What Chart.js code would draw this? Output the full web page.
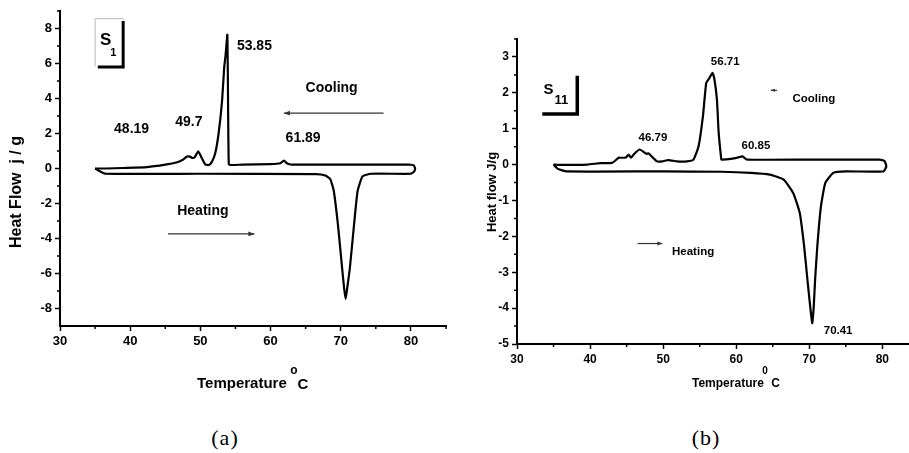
<!DOCTYPE html>
<html>
<head>
<meta charset="utf-8">
<script src="https://cdn.jsdelivr.net/npm/chart.js@4.4.0/dist/chart.umd.min.js"></script>
<style>
  html, body { margin: 0; padding: 0; background: #fff; }
  #page { position: relative; width: 909px; height: 453px; overflow: hidden; }
  canvas { position: absolute; top: 0; }
  #chartA { left: 0; }
  #chartB { left: 455px; }
  .cap { position: absolute; top: 425px; line-height: 26px; font-size: 22px;
         font-family: "Liberation Serif", "Times New Roman", serif; transform: translateX(-50%); letter-spacing: 1px; }
</style>
</head>
<body>
<div id="page">
  <canvas id="chartA" width="455" height="400"></canvas>
  <canvas id="chartB" width="454" height="400"></canvas>
  <div class="cap" style="left:225px">(a)</div>
  <div class="cap" style="left:706px">(b)</div>
</div>
<script>
// ---- (a) sample S1 ----
// heating run (lower trace), left to right, ends in the right-hand turn
const heatTempA = [35.0, 35.5, 36.5, 50.0, 66.5, 67.8, 68.5, 69.0, 69.6, 70.2, 70.5, 70.7, 70.9, 71.3, 71.9, 72.4, 73.1, 74.3, 79.9, 80.4, 80.6, 80.4, 79.9];
const heatFlowA = [0.0, -0.12, -0.3, -0.3, -0.32, -0.4, -0.6, -1.26, -3.2, -5.7, -6.9, -7.45, -6.9, -5.7, -3.2, -1.3, -0.45, -0.3, -0.3, -0.2, 0.0, 0.18, 0.22];
// cooling run (upper trace), right to left
const coolTempA = [79.9, 70.0, 63.0, 62.4, 61.9, 61.4, 60.0, 56.0, 54.3, 54.05, 53.95, 53.85, 53.6, 53.4, 53.1, 52.6, 52.1, 51.6, 51.2, 50.7, 50.2, 49.7, 49.2, 48.9, 48.5, 48.1, 47.5, 46.7, 45.0, 42.4, 39.0, 36.5, 35.5, 35.0];
const coolFlowA = [0.22, 0.22, 0.22, 0.28, 0.45, 0.3, 0.25, 0.22, 0.2, 0.25, 3.5, 7.64, 6.5, 5.8, 3.9, 2.0, 0.84, 0.35, 0.2, 0.23, 0.6, 0.98, 0.65, 0.6, 0.68, 0.68, 0.5, 0.36, 0.22, 0.08, 0.03, 0.0, 0.0, 0.0];
const xTicksA = [30, 40, 50, 60, 70, 80];
const xMinorA = [35, 45, 55, 65, 75, 85];
const yTicksA = [-8, -6, -4, -2, 0, 2, 4, 6, 8];
const yMinorA = [-7, -5, -3, -1, 1, 3, 5, 7, 9];

// ---- (b) sample S11 ----
const heatTempB = [35.0, 35.6, 36.8, 50.0, 58.0, 62.0, 64.6, 66.5, 67.8, 68.7, 69.3, 69.75, 70.1, 70.4, 70.6, 70.8, 71.1, 71.6, 72.2, 73.3, 75.0, 80.15, 80.55, 80.3, 79.7];
const heatFlowB = [0.0, -0.12, -0.19, -0.19, -0.2, -0.23, -0.28, -0.42, -0.79, -1.35, -2.28, -3.21, -3.9, -4.42, -4.0, -3.21, -2.28, -1.16, -0.51, -0.23, -0.19, -0.19, -0.05, 0.1, 0.14];
const coolTempB = [79.7, 70.0, 61.5, 60.85, 60.3, 59.0, 58.0, 57.95, 57.6, 57.36, 57.0, 56.75, 56.3, 55.9, 55.45, 54.85, 54.15, 53.25, 51.9, 51.0, 50.5, 49.9, 49.15, 48.0, 47.7, 46.77, 46.05, 45.6, 45.27, 44.9, 44.2, 43.9, 43.4, 43.0, 41.4, 39.6, 35.9, 35.0];
const coolFlowB = [0.14, 0.14, 0.14, 0.23, 0.2, 0.15, 0.14, 0.16, 0.89, 1.82, 2.4, 2.56, 2.4, 2.28, 1.35, 0.51, 0.14, 0.09, 0.09, 0.12, 0.12, 0.09, 0.09, 0.31, 0.3, 0.42, 0.3, 0.19, 0.28, 0.2, 0.19, 0.19, 0.1, 0.05, 0.04, 0.0, -0.01, 0.0];
const xTicksB = [30, 40, 50, 60, 70, 80];
const xMinorB = [35, 45, 55, 65, 75];
const yTicksB = [-5, -4, -3, -2, -1, 0, 1, 2, 3];
const yMinorB = [-4.5, -3.5, -2.5, -1.5, -0.5, 0.5, 1.5, 2.5, 3.5];

const FAM = '"Liberation Sans", Arial, Helvetica, sans-serif';

function pts(xs, ys) {
  return xs.map((x, i) => ({ x: x, y: ys[i] }));
}

function text(ctx, str, x, y, size, align) {
  ctx.font = 'bold ' + size + 'px ' + FAM;
  ctx.fillStyle = '#000';
  ctx.textAlign = align || 'center';
  ctx.textBaseline = 'middle';
  ctx.fillText(str, x, y);
}

// plain arrow, head at (x2, y)
function arrow(ctx, x1, x2, y, head) {
  ctx.save();
  ctx.strokeStyle = '#333';
  ctx.fillStyle = '#333';
  ctx.lineWidth = 1.2;
  ctx.beginPath();
  ctx.moveTo(x1, y);
  ctx.lineTo(x2, y);
  ctx.stroke();
  const d = x2 > x1 ? -1 : 1;
  ctx.beginPath();
  ctx.moveTo(x2, y);
  ctx.lineTo(x2 + d * head, y - head / 2.5);
  ctx.lineTo(x2 + d * head, y + head / 2.5);
  ctx.closePath();
  ctx.fill();
  ctx.restore();
}

function line(ctx, coords, width, color) {
  ctx.save();
  ctx.strokeStyle = color;
  ctx.lineWidth = width;
  ctx.lineCap = 'square';
  ctx.beginPath();
  coords.forEach((c, i) => (i ? ctx.lineTo(c[0], c[1]) : ctx.moveTo(c[0], c[1])));
  ctx.stroke();
  ctx.restore();
}

// minor ticks, titles and in-plot labels
function decor(cfg) {
  return {
    id: 'decor',
    afterDraw(chart) {
      const ctx = chart.ctx;
      const xs = chart.scales.x, ys = chart.scales.y;
      const X = v => xs.getPixelForValue(v);
      const Y = v => ys.getPixelForValue(v);
      ctx.save();
      ctx.strokeStyle = '#000';
      ctx.lineWidth = 1.5;
      ctx.beginPath();
      cfg.xMinor.forEach(v => { ctx.moveTo(X(v), xs.top); ctx.lineTo(X(v), xs.top + 3); });
      cfg.yMinor.forEach(v => { ctx.moveTo(ys.right, Y(v)); ctx.lineTo(ys.right - 3, Y(v)); });
      ctx.stroke();
      ctx.restore();
      cfg.draw(ctx, X, Y, chart);
    }
  };
}

function makeChart(id, heat, cool, ax) {
  const trace = { showLine: true, borderColor: '#000', borderWidth: 2.2, borderJoinStyle: 'round', pointRadius: 0, tension: 0.15 };
  return new Chart(document.getElementById(id), {
    type: 'scatter',
    data: {
      datasets: [
        Object.assign({ label: 'Heating', data: heat }, trace),
        Object.assign({ label: 'Cooling', data: cool }, trace)
      ]
    },
    options: {
      responsive: false,
      animation: false,
      layout: { padding: { top: ax.padTop, right: ax.padRight, left: 0, bottom: 0 } },
      plugins: { legend: { display: false }, tooltip: { enabled: false } },
      scales: {
        x: {
          type: 'linear', position: 'bottom', min: ax.xMin, max: ax.xMax,
          grid: { drawOnChartArea: false, drawTicks: true, tickLength: 5, tickColor: '#000', tickWidth: 1.5 },
          border: { color: '#000', width: 2 },
          ticks: { color: '#000', padding: 3, maxRotation: 0, autoSkip: false, font: { family: FAM, size: ax.tickSize, weight: 'bold' } },
          afterBuildTicks: s => { s.ticks = ax.xTicks.map(v => ({ value: v })); },
          afterFit: s => { s.height = ax.xHeight; }
        },
        y: {
          type: 'linear', min: ax.yMin, max: ax.yMax,
          grid: { drawOnChartArea: false, drawTicks: true, tickLength: 5, tickColor: '#000', tickWidth: 1.5 },
          border: { color: '#000', width: 2 },
          ticks: { color: '#000', padding: 3, autoSkip: false, font: { family: FAM, size: ax.tickSize, weight: 'bold' } },
          afterBuildTicks: s => { s.ticks = ax.yTicks.map(v => ({ value: v })); },
          afterFit: s => { s.width = ax.yWidth; }
        }
      }
    },
    plugins: [decor(ax)]
  });
}

makeChart('chartA', pts(heatTempA, heatFlowA), pts(coolTempA, coolFlowA), {
  xMin: 30, xMax: 85, yMin: -9, yMax: 9,
  xTicks: xTicksA, yTicks: yTicksA, xMinor: xMinorA, yMinor: yMinorA,
  padTop: 11, padRight: 9, xHeight: 74, yWidth: 60, tickSize: 13,
  draw(ctx, X, Y) {
    // S1 tag
    line(ctx, [[X(35), Y(5.86)], [X(35), Y(8.56)], [X(39), Y(8.56)]], 1, '#bbb');
    line(ctx, [[X(39), Y(8.35)], [X(39), Y(5.8)], [X(35.6), Y(5.8)]], 3, '#000');
    text(ctx, 'S', X(36.5), Y(7.3), 17);
    text(ctx, '1', X(37.6), Y(6.62), 11);
    text(ctx, '53.85', X(57.7), Y(7.0), 14);
    text(ctx, 'Cooling', X(68.7), Y(4.6), 14);
    arrow(ctx, X(76.1), X(61.9), Y(3.16), 6);
    text(ctx, '48.19', X(40.2), Y(2.24), 14);
    text(ctx, '49.7', X(48.36), Y(2.64), 14);
    text(ctx, '61.89', X(64.64), Y(1.72), 14);
    text(ctx, 'Heating', X(50.36), Y(-2.41), 14);
    arrow(ctx, X(45.4), X(57.7), Y(-3.74), 6);
    // axis titles
    ctx.save();
    ctx.translate(17, 192);
    ctx.rotate(-Math.PI / 2);
    text(ctx, 'Heat Flow  j / g', 0, 0, 16);
    ctx.restore();
    text(ctx, 'Temperature', 197, 384, 15, 'left');
    text(ctx, 'o', 294, 371, 12);
    text(ctx, 'C', 303, 385, 15);
  }
});

makeChart('chartB', pts(heatTempB, heatFlowB), pts(coolTempB, coolFlowB), {
  xMin: 30, xMax: 83.65, yMin: -5, yMax: 3.5,
  xTicks: xTicksB, yTicks: yTicksB, xMinor: xMinorB, yMinor: yMinorB,
  padTop: 39, padRight: 0, xHeight: 56, yWidth: 62, tickSize: 12,
  draw(ctx, X, Y) {
    // S11 tag
    line(ctx, [[X(38.25), Y(2.43)], [X(38.25), Y(1.41)], [X(33.7), Y(1.41)]], 3.5, '#000');
    text(ctx, 'S', X(34.3), Y(2.09), 15);
    text(ctx, '11', X(36.06), Y(1.8), 13);
    text(ctx, '56.71', X(58.5), Y(2.85), 11.5);
    arrow(ctx, X(65.6), X(64.75), Y(2.07), 4);
    text(ctx, 'Cooling', X(67.7), Y(1.84), 11.5, 'left');
    text(ctx, '46.79', X(48.6), Y(0.75), 11.5);
    text(ctx, '60.85', X(62.7), Y(0.53), 11.5);
    arrow(ctx, X(46.5), X(49.9), Y(-2.2), 5);
    text(ctx, 'Heating', X(54.1), Y(-2.43), 11.5);
    text(ctx, '70.41', X(73.95), Y(-4.64), 11.5);
    // axis titles
    ctx.save();
    ctx.translate(37.5, 192);
    ctx.rotate(-Math.PI / 2);
    text(ctx, 'Heat flow J/g', 0, 0, 13);
    ctx.restore();
    text(ctx, 'Temperature', 237, 384, 12, 'left');
    text(ctx, '0', 310, 371, 10);
    text(ctx, 'C', 320.5, 384, 12);
  }
});
</script>
</body>
</html>
